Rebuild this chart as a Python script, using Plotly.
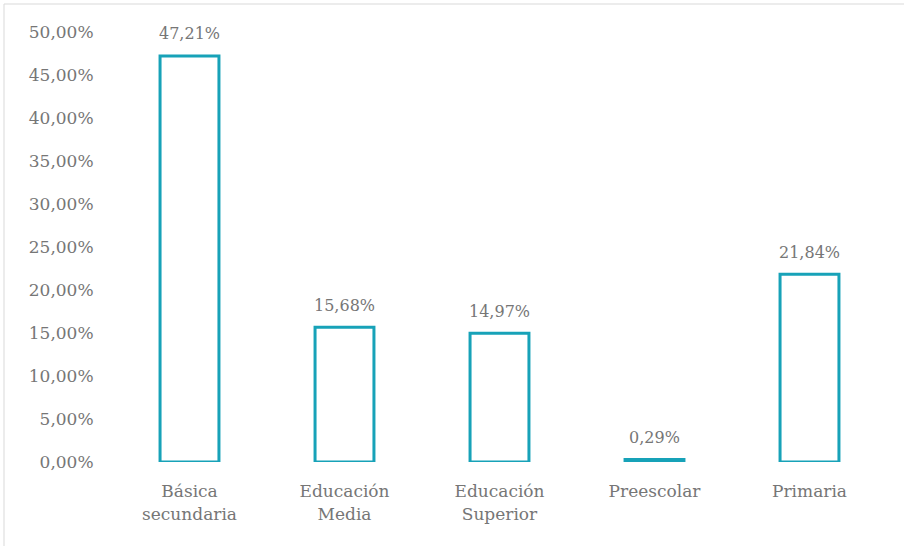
import plotly.graph_objects as go

categories = ["Básica<br>secundaria", "Educación<br>Media", "Educación<br>Superior", "Preescolar", "Primaria"]
values = [47.21, 15.68, 14.97, 0.29, 21.84]
tick_vals = [0, 5, 10, 15, 20, 25, 30, 35, 40, 45, 50]
tick_text = ["0,00%", "5,00%", "10,00%", "15,00%", "20,00%", "25,00%", "30,00%", "35,00%", "40,00%", "45,00%", "50,00%"]
labels = [f"{v:.2f}".replace(".", ",") + "%" for v in values]

teal = "#17a2b8"
gray = "#767676"
font = "DejaVu Serif"

fig = go.Figure(go.Bar(
    x=categories, y=values,
    marker=dict(color="white", line=dict(color=teal, width=3)),
    width=0.38,
    hoverinfo="skip",
))

for c, v, t in zip(categories, values, labels):
    fig.add_annotation(x=c, y=v, text=t, showarrow=False, yshift=22,
                       font=dict(family=font, size=16, color=gray))

W, H = 904, 546
L, R, T, B = 112, 17, 32, 84
pw, ph = W - L - R, H - T - B

fig.update_layout(
    width=W, height=H,
    margin=dict(l=L, r=R, t=T, b=B),
    paper_bgcolor="white", plot_bgcolor="white",
    showlegend=False,
    xaxis=dict(showline=False, showgrid=False, zeroline=False,
               ticks="outside", ticklen=14, tickcolor="rgba(0,0,0,0)",
               tickfont=dict(family=font, size=17, color=gray)),
    yaxis=dict(range=[0, 50], tickvals=tick_vals, ticktext=tick_text,
               showline=False, showgrid=False, zeroline=False,
               ticks="outside", ticklen=14, tickcolor="rgba(0,0,0,0)",
               tickfont=dict(family=font, size=17, color=gray)),
    shapes=[dict(type="rect", xref="paper", yref="paper",
                 x0=(4 - L) / pw, x1=(W + 20 - L) / pw,
                 y0=(T + ph - (H + 20)) / ph, y1=(T + ph - 4) / ph,
                 line=dict(color="#d9d9d9", width=1), fillcolor="rgba(0,0,0,0)",
                 layer="below")],
)

fig.write_html("out.html", config={"displayModeBar": False},
               post_script="document.body.style.margin='0';document.body.style.overflow='hidden';")
